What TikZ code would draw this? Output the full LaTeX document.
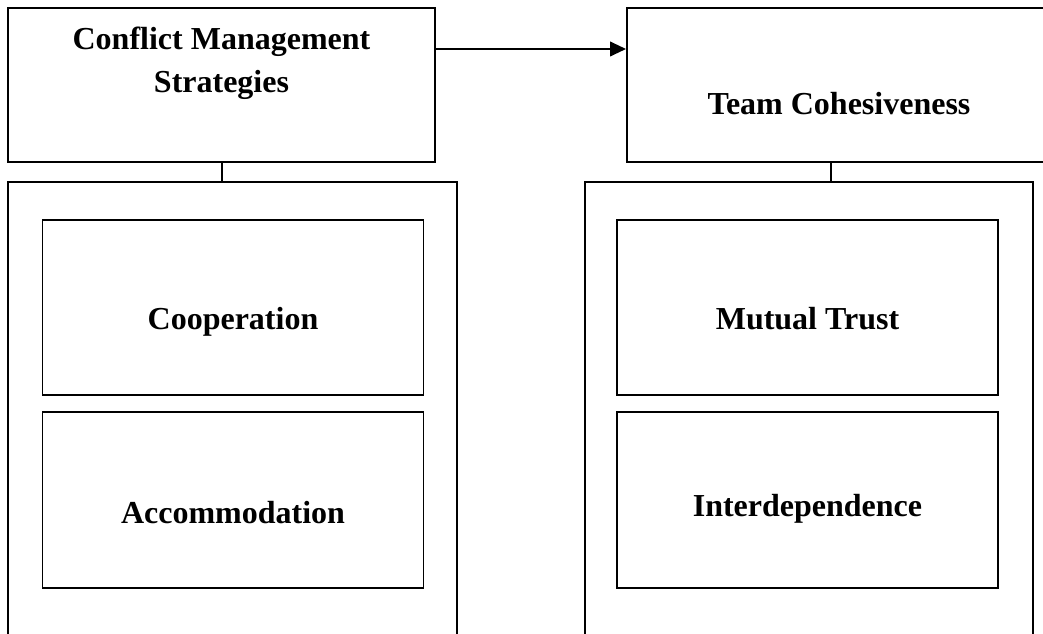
\documentclass[tikz,border=0pt]{standalone}
\usepackage{fontspec}
\setmainfont{Liberation Serif}
\usetikzlibrary{arrows.meta}
\tikzset{
  outerbox/.style={draw=black, line width=1.5pt, rectangle, inner sep=0pt},
  innerbox/.style={draw=black, line width=1.4pt, rectangle, inner sep=0pt},
  lbl/.style={font=\fontsize{24}{32.25}\selectfont\bfseries, inner sep=0pt, align=center},
  conn/.style={line width=1.5pt},
  arr/.style={line width=1.5pt, -{Triangle[length=12pt,width=11pt]}}
}
\begin{document}
\begin{tikzpicture}[x=0.75pt,y=-0.75pt]
\clip (0,0) rectangle (1043,634);
\fill[white] (0,0) rectangle (1043,634);
% top boxes
\node[outerbox, minimum width=427*0.75pt, minimum height=154*0.75pt] (cms) at (221.5,85) {};
\node[outerbox, minimum width=424*0.75pt, minimum height=154*0.75pt] (tc) at (839,85) {};
\node[lbl] (cmstext) at (221.5,63) {Conflict Management\\Strategies};
\node[lbl, anchor=base] (tctext) at (839,115) {Team Cohesiveness};
% big boxes
\node[outerbox, minimum width=449*0.75pt, minimum height=500*0.75pt, anchor=north] (leftbig) at (232.5,181) {};
\node[outerbox, minimum width=448*0.75pt, minimum height=500*0.75pt, anchor=north] (rightbig) at (809,181) {};
% inner boxes
\node[innerbox, minimum width=381*0.75pt, minimum height=175*0.75pt] (coop) at (233,307.5) {};
\node[innerbox, minimum width=381*0.75pt, minimum height=176*0.75pt] (acc) at (233,500) {};
\node[innerbox, minimum width=381*0.75pt, minimum height=175*0.75pt] (mt) at (807.5,307.5) {};
\node[innerbox, minimum width=381*0.75pt, minimum height=176*0.75pt] (inter) at (807.5,500) {};
\node[lbl, anchor=base] (cooptext) at (233,330) {Cooperation};
\node[lbl, anchor=base] (acctext) at (233,523) {Accommodation};
\node[lbl, anchor=base] (mttext) at (807.5,330) {Mutual Trust};
\node[lbl, anchor=base] (intertext) at (807.5,517) {Interdependence};
% connectors
\coordinate (ay) at (0,49);
\coordinate (rc) at (831,0);
\draw[arr] (cms.east |- ay) -- (tc.west |- ay);
\draw[conn] (cms.south) -- (cms.south |- leftbig.north);
\draw[conn] (rc |- tc.south) -- (rc |- rightbig.north);
\end{tikzpicture}
\end{document}
